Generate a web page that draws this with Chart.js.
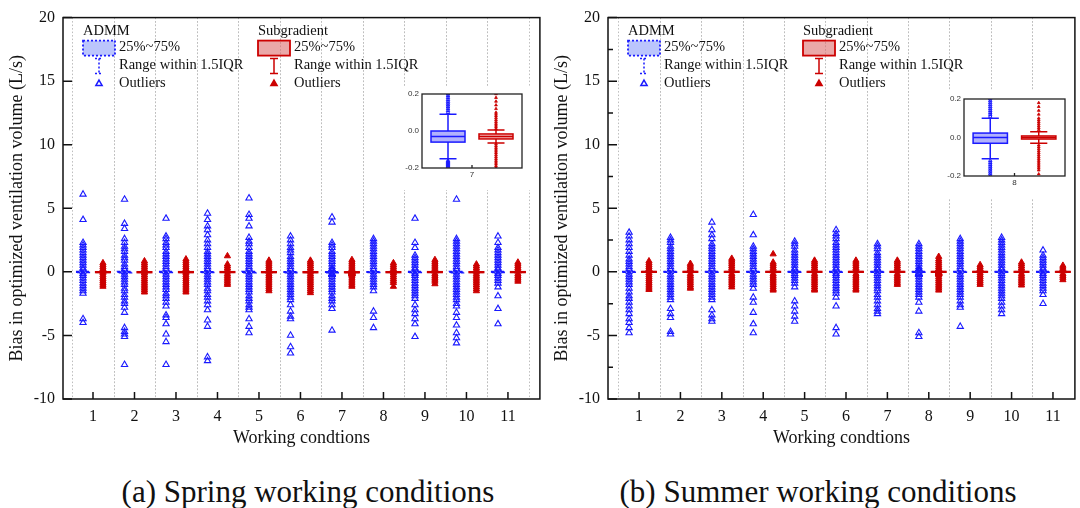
<!DOCTYPE html>
<html>
<head>
<meta charset="utf-8">
<script src="https://cdn.jsdelivr.net/npm/chart.js@4.4.0/dist/chart.umd.min.js"></script>
<style>
  body { margin: 0; background: #fff; width: 1080px; height: 508px; position: relative; overflow: hidden; }
  .pane { position: absolute; }
  .cap { position: absolute; top: 474px; height: 36px; line-height: 36px; text-align: center;
         font-family: "Liberation Serif", "Times New Roman", serif; font-size: 31px; color: #111; }
</style>
</head>
<body>
<div class="pane" style="left:0;top:0"><canvas id="springChart" width="545" height="460"></canvas></div>
<div class="pane" style="left:545px;top:0"><canvas id="summerChart" width="535" height="460"></canvas></div>
<div class="pane" style="left:395px;top:86px"><canvas id="springInset" width="135" height="104"></canvas></div>
<div class="pane" style="left:937px;top:91px"><canvas id="summerInset" width="136" height="107"></canvas></div>
<div class="cap" style="left:0;width:616px">(a) Spring working conditions</div>
<div class="cap" style="left:568px;width:500px">(b) Summer working conditions</div>

<script>
// working conditions on the x axis
const conditions = [1, 2, 3, 4, 5, 6, 7, 8, 9, 10, 11];

// outliers, one list per working condition (L/s)
const springAdmm = [
  [6.1, 4.1, 2.3, 2.1, 1.9, 1.7, 1.5, 1.3, 1.1, 0.9, 0.7, 0.5, 0.3, 0.15, -0.15, -0.3, -0.5, -0.7, -0.9, -1.1, -1.3, -1.5, -1.7, -3.7, -4.0],
  [5.7, 3.8, 3.4, 2.6, 2.3, 2.0, 1.8, 1.6, 1.3, 1.1, 0.9, 0.6, 0.4, 0.2, -0.2, -0.4, -0.6, -0.8, -1.0, -1.3, -1.5, -1.8, -2.0, -2.3, -2.5, -2.8, -3.2, -4.4, -4.7, -4.9, -5.1, -7.3],
  [4.2, 2.8, 2.6, 2.3, 2.1, 1.9, 1.6, 1.4, 1.2, 1.0, 0.8, 0.6, 0.4, 0.2, -0.2, -0.4, -0.6, -0.8, -1.0, -1.2, -1.4, -1.7, -1.9, -2.1, -2.4, -2.7, -3.4, -3.6, -4.1, -4.9, -5.5, -7.3],
  [4.6, 4.1, 3.6, 3.3, 2.9, 2.5, 2.2, 1.9, 1.6, 1.4, 1.2, 1.0, 0.8, 0.6, 0.4, 0.2, -0.2, -0.4, -0.6, -0.8, -1.0, -1.3, -1.5, -1.8, -2.0, -2.3, -2.6, -3.0, -3.8, -4.3, -6.7, -7.0],
  [5.8, 4.5, 4.2, 3.6, 2.7, 2.4, 2.2, 1.9, 1.6, 1.4, 1.2, 1.0, 0.8, 0.6, 0.4, 0.2, -0.2, -0.4, -0.6, -0.8, -1.0, -1.2, -1.4, -1.6, -1.9, -2.1, -2.3, -2.6, -2.8, -3.0, -3.7, -4.3, -4.8],
  [2.8, 2.5, 2.2, 1.9, 1.7, 1.5, 1.2, 1.0, 0.8, 0.6, 0.4, 0.2, -0.2, -0.4, -0.6, -0.8, -1.0, -1.2, -1.4, -1.6, -1.8, -2.0, -2.2, -2.6, -3.1, -3.5, -3.7, -5.0, -5.9, -6.4],
  [4.3, 3.9, 2.3, 2.1, 1.9, 1.6, 1.4, 1.2, 1.0, 0.8, 0.6, 0.4, 0.2, 0.19, 0.18, 0.17, 0.16, 0.15, 0.14, 0.13, 0.12, 0.11, 0.10,
   -0.16, -0.165, -0.17, -0.175, -0.18, -0.185, -0.19, -0.195, -0.2, -0.4, -0.6, -0.8, -1.0, -1.2, -1.4, -1.6, -1.9, -2.1, -2.3, -2.6, -2.9, -4.6],
  [2.6, 2.4, 2.2, 2.0, 1.8, 1.6, 1.4, 1.2, 1.0, 0.8, 0.6, 0.4, 0.2, -0.2, -0.4, -0.6, -0.8, -1.0, -1.2, -1.5, -3.1, -3.6, -4.4],
  [4.2, 2.3, 1.9, 1.3, 1.1, 0.9, 0.7, 0.5, 0.3, 0.15, -0.15, -0.3, -0.5, -0.7, -0.9, -1.1, -1.3, -1.5, -1.7, -1.9, -2.1, -2.6, -3.0, -3.3, -3.7, -4.1, -5.1],
  [5.7, 2.6, 2.4, 2.2, 2.0, 1.8, 1.6, 1.4, 1.2, 1.0, 0.8, 0.6, 0.4, 0.2, -0.2, -0.4, -0.6, -0.8, -1.0, -1.2, -1.4, -1.6, -1.8, -2.0, -2.2, -2.5, -2.7, -3.2, -3.6, -4.2, -4.8, -5.2, -5.6],
  [2.8, 2.3, 1.9, 1.7, 1.5, 1.3, 1.1, 0.9, 0.7, 0.5, 0.3, 0.15, -0.15, -0.3, -0.5, -0.7, -0.9, -1.2, -1.9, -2.9, -4.1]
];
const springSub = [
  [0.7, 0.55, 0.4, 0.25, 0.1, -0.1, -0.25, -0.4, -0.55, -0.7, -0.85, -1.0, -1.15],
  [0.85, 0.7, 0.55, 0.4, 0.25, 0.1, -0.1, -0.25, -0.4, -0.55, -0.7, -0.85, -1.0, -1.15, -1.3, -1.45, -1.6],
  [1.0, 0.85, 0.7, 0.55, 0.4, 0.25, 0.1, -0.1, -0.25, -0.4, -0.55, -0.7, -0.85, -1.0, -1.15, -1.3, -1.45, -1.6],
  [1.25, 0.6, 0.45, 0.3, 0.15, -0.15, -0.3, -0.45, -0.6, -0.75, -0.9, -1.0],
  [0.9, 0.75, 0.6, 0.45, 0.3, 0.15, -0.15, -0.3, -0.45, -0.6, -0.75, -0.9, -1.05, -1.2, -1.35, -1.5],
  [0.9, 0.75, 0.6, 0.45, 0.3, 0.15, -0.15, -0.3, -0.45, -0.6, -0.75, -0.9, -1.05, -1.2, -1.35, -1.5, -1.65],
  [0.95, 0.8, 0.65, 0.5, 0.35, 0.2, 0.18, 0.16, 0.14, 0.12, 0.1, 0.09, 0.08, 0.07, 0.06, 0.05, 0.04, 0.03, 0.02, 0.01,
   -0.07, -0.08, -0.09, -0.1, -0.11, -0.12, -0.13, -0.14, -0.15, -0.16, -0.17, -0.18, -0.19, -0.2, -0.3, -0.45, -0.6, -0.75, -0.9, -1.05, -1.15],
  [0.7, 0.55, 0.4, 0.25, 0.1, -0.1, -0.25, -0.4, -0.55, -0.7, -0.85, -1.15],
  [0.95, 0.8, 0.65, 0.5, 0.35, 0.2, -0.15, -0.3, -0.45, -0.6, -0.75, -0.95],
  [0.6, 0.45, 0.3, 0.15, -0.15, -0.3, -0.45, -0.6, -0.75, -0.9, -1.05, -1.2, -1.35, -1.5],
  [0.75, 0.6, 0.45, 0.3, 0.15, -0.15, -0.3, -0.45, -0.6, -0.75]
];
const summerAdmm = [
  [3.1, 2.8, 2.5, 2.2, 1.9, 1.6, 1.3, 1.0, 0.8, 0.6, 0.4, 0.2, -0.2, -0.4, -0.6, -0.8, -1.0, -1.3, -1.6, -1.9, -2.1, -2.4, -2.7, -3.0, -3.3, -3.7, -4.0, -4.4, -4.8],
  [2.7, 2.5, 2.3, 2.0, 1.8, 1.6, 1.4, 1.2, 1.0, 0.8, 0.6, 0.4, 0.2, -0.2, -0.4, -0.6, -0.8, -1.0, -1.2, -1.4, -1.6, -1.8, -2.0, -2.2, -2.9, -3.3, -3.6, -4.7, -4.9],
  [3.9, 3.3, 2.9, 2.6, 2.2, 2.0, 1.8, 1.6, 1.4, 1.2, 1.0, 0.8, 0.6, 0.4, 0.2, -0.2, -0.4, -0.6, -0.8, -1.0, -1.2, -1.4, -1.6, -1.8, -2.0, -2.2, -3.0, -3.4, -3.7, -3.9],
  [4.5, 2.9, 2.0, 1.8, 1.6, 1.4, 1.2, 1.0, 0.8, 0.6, 0.4, 0.2, -0.2, -0.4, -0.6, -0.8, -1.0, -1.3, -2.0, -2.4, -3.2, -4.1, -4.8],
  [2.4, 2.2, 2.0, 1.7, 1.5, 1.3, 1.1, 0.9, 0.7, 0.5, 0.3, 0.15, -0.15, -0.3, -0.5, -0.7, -0.9, -1.2, -2.3, -2.7, -3.1, -3.5, -3.9],
  [3.3, 3.0, 2.8, 2.6, 2.3, 2.1, 1.9, 1.7, 1.5, 1.3, 1.1, 0.9, 0.7, 0.5, 0.3, 0.15, -0.15, -0.3, -0.5, -0.7, -0.9, -1.1, -1.3, -1.5, -1.7, -2.0, -2.7, -4.4, -4.9],
  [2.2, 2.0, 1.8, 1.5, 1.3, 1.1, 0.9, 0.7, 0.5, 0.3, 0.15, -0.15, -0.3, -0.5, -0.7, -0.9, -1.1, -1.3, -1.5, -1.8, -2.0, -2.3, -2.6, -2.9, -3.1, -3.3],
  [2.2, 2.0, 1.8, 1.6, 1.4, 1.2, 1.0, 0.8, 0.6, 0.4, 0.2, 0.19, 0.18, 0.17, 0.16, 0.15, 0.14, 0.13, 0.12, 0.11,
   -0.12, -0.13, -0.14, -0.15, -0.16, -0.17, -0.18, -0.19, -0.2, -0.4, -0.6, -0.8, -1.0, -1.2, -1.4, -1.6, -1.8, -2.0, -2.4, -3.1, -4.8, -5.1],
  [2.6, 2.4, 2.2, 2.0, 1.8, 1.6, 1.4, 1.2, 1.0, 0.8, 0.6, 0.4, 0.2, -0.2, -0.4, -0.6, -0.8, -1.0, -1.2, -1.4, -1.6, -1.8, -2.0, -2.3, -2.6, -2.8, -4.3],
  [2.7, 2.5, 2.3, 2.1, 1.9, 1.7, 1.5, 1.3, 1.1, 0.9, 0.7, 0.5, 0.3, 0.15, -0.15, -0.3, -0.5, -0.7, -0.9, -1.1, -1.3, -1.5, -1.7, -1.9, -2.1, -2.4, -2.7, -3.0, -3.3],
  [1.7, 1.3, 1.1, 0.9, 0.7, 0.5, 0.3, 0.15, -0.15, -0.3, -0.5, -0.7, -0.9, -1.1, -1.3, -1.5, -1.8, -2.5]
];
const summerSub = [
  [0.85, 0.7, 0.55, 0.4, 0.25, 0.1, -0.1, -0.25, -0.4, -0.55, -0.7, -0.85, -1.0, -1.15, -1.3, -1.4],
  [0.65, 0.5, 0.35, 0.2, -0.15, -0.3, -0.45, -0.6, -0.75, -0.9, -1.05, -1.2, -1.3],
  [1.05, 0.9, 0.75, 0.6, 0.45, 0.3, 0.15, -0.15, -0.3, -0.45, -0.6, -0.75, -0.9, -1.05, -1.2],
  [1.4, 0.75, 0.6, 0.45, 0.3, 0.15, -0.15, -0.3, -0.45, -0.6, -0.75, -0.9, -1.05, -1.2, -1.35, -1.45],
  [0.9, 0.75, 0.6, 0.45, 0.3, 0.15, -0.15, -0.3, -0.45, -0.6, -0.75, -0.9, -1.05, -1.2, -1.35, -1.45],
  [0.9, 0.75, 0.6, 0.45, 0.3, 0.15, -0.15, -0.3, -0.45, -0.6, -0.75, -0.9, -1.05, -1.2, -1.35, -1.45],
  [0.9, 0.75, 0.6, 0.45, 0.3, 0.15, -0.15, -0.3, -0.45, -0.6, -0.75, -0.9, -1.0],
  [1.2, 1.0, 0.85, 0.7, 0.55, 0.4, 0.25, 0.18, 0.16, 0.14, 0.12, 0.1, 0.09, 0.08, 0.07, 0.06, 0.05, 0.04,
   -0.04, -0.05, -0.06, -0.07, -0.08, -0.09, -0.1, -0.11, -0.12, -0.13, -0.14, -0.15, -0.16, -0.17, -0.19,
   -0.25, -0.4, -0.55, -0.7, -0.85, -1.0, -1.15, -1.3, -1.45],
  [0.55, 0.4, 0.25, 0.1, -0.1, -0.25, -0.4, -0.55, -0.7, -0.85, -1.0],
  [0.75, 0.6, 0.45, 0.3, 0.15, -0.15, -0.3, -0.45, -0.6, -0.75, -0.9, -1.05],
  [0.5, 0.35, 0.2, -0.15, -0.3, -0.45, -0.63]
];

// box statistics per condition: [lower whisker, Q1, median, Q3, upper whisker]
const springAdmmBox = [
  [-0.13, -0.05, -0.02, 0.02, 0.11], [-0.15, -0.06, -0.02, 0.02, 0.12], [-0.14, -0.05, -0.01, 0.02, 0.11],
  [-0.13, -0.05, -0.02, 0.01, 0.10], [-0.15, -0.06, -0.02, 0.02, 0.12], [-0.14, -0.06, -0.03, 0.01, 0.10],
  [-0.15, -0.06, -0.03, 0.00, 0.09], [-0.12, -0.05, -0.02, 0.01, 0.10], [-0.14, -0.05, -0.02, 0.02, 0.11],
  [-0.15, -0.06, -0.02, 0.02, 0.12], [-0.12, -0.04, -0.01, 0.02, 0.10]
];
const springSubBox = [
  [-0.06, -0.035, -0.02, -0.01, 0.01], [-0.07, -0.04, -0.02, -0.01, 0.01], [-0.06, -0.035, -0.02, -0.005, 0.015],
  [-0.05, -0.03, -0.015, -0.005, 0.01], [-0.06, -0.035, -0.02, -0.01, 0.01], [-0.07, -0.04, -0.025, -0.01, 0.01],
  [-0.065, -0.043, -0.03, -0.016, 0.005], [-0.06, -0.035, -0.02, -0.01, 0.01], [-0.05, -0.03, -0.015, -0.005, 0.01],
  [-0.06, -0.035, -0.02, -0.01, 0.01], [-0.05, -0.03, -0.015, -0.005, 0.01]
];
const summerAdmmBox = [
  [-0.12, -0.035, 0.0, 0.025, 0.11], [-0.11, -0.03, 0.0, 0.02, 0.10], [-0.12, -0.035, 0.0, 0.025, 0.11],
  [-0.11, -0.03, 0.0, 0.02, 0.10], [-0.10, -0.03, 0.0, 0.02, 0.09], [-0.12, -0.035, 0.0, 0.025, 0.11],
  [-0.11, -0.03, 0.0, 0.02, 0.10], [-0.11, -0.03, 0.0, 0.023, 0.10], [-0.12, -0.035, 0.0, 0.025, 0.11],
  [-0.11, -0.03, 0.0, 0.02, 0.10], [-0.10, -0.03, 0.0, 0.02, 0.09]
];
const summerSubBox = [
  [-0.03, -0.008, 0.0, 0.008, 0.03], [-0.03, -0.008, 0.0, 0.008, 0.03], [-0.035, -0.01, 0.0, 0.01, 0.035],
  [-0.03, -0.008, 0.0, 0.008, 0.03], [-0.03, -0.008, 0.0, 0.008, 0.03], [-0.035, -0.01, 0.0, 0.01, 0.035],
  [-0.03, -0.008, 0.0, 0.008, 0.03], [-0.03, -0.008, 0.0, 0.008, 0.03], [-0.03, -0.008, 0.0, 0.008, 0.03],
  [-0.03, -0.008, 0.0, 0.008, 0.03], [-0.025, -0.006, 0.0, 0.006, 0.025]
];

const SERIF = '"Liberation Serif", "Times New Roman", serif';
const SANS = '"Liberation Sans", Arial, sans-serif';
const BLUE = '#1a1aff';
const RED = '#cc0000';
const SHIFT = 0.24;   // ADMM left of the tick, Subgradient right of it
const BOX_W = 0.34;

function toPoints(groups, dx) {
  const out = [];
  groups.forEach((vals, i) => vals.forEach(v => out.push({ x: conditions[i] + dx, y: v })));
  return out;
}

function drawBox(ctx, xs, ys, xc, s, st) {
  const x0 = xs.getPixelForValue(xc - BOX_W / 2);
  const x1 = xs.getPixelForValue(xc + BOX_W / 2);
  const cx = xs.getPixelForValue(xc);
  const cw = (x1 - x0) / 4;
  const [lo, q1, md, q3, hi] = s.map(v => ys.getPixelForValue(v));
  ctx.save();
  ctx.strokeStyle = st.color;
  ctx.lineWidth = st.lw;
  ctx.setLineDash(st.dash);
  ctx.beginPath();
  ctx.moveTo(cx, q3); ctx.lineTo(cx, hi);
  ctx.moveTo(cx, q1); ctx.lineTo(cx, lo);
  ctx.moveTo(cx - cw, hi); ctx.lineTo(cx + cw, hi);
  ctx.moveTo(cx - cw, lo); ctx.lineTo(cx + cw, lo);
  ctx.stroke();
  ctx.fillStyle = st.fill;
  ctx.fillRect(x0, q3, x1 - x0, q1 - q3);
  ctx.strokeRect(x0, q3, x1 - x0, q1 - q3);
  ctx.beginPath();
  ctx.moveTo(x0, md); ctx.lineTo(x1, md);
  ctx.stroke();
  ctx.restore();
}

function marker(ctx, x, y, filled, color, r) {
  ctx.save();
  ctx.setLineDash([]);
  ctx.strokeStyle = color;
  ctx.fillStyle = filled ? color : 'rgba(0,0,0,0)';
  Chart.helpers.drawPoint(ctx, { pointStyle: 'triangle', radius: r, rotation: 0, borderWidth: 1.1 }, x, y);
  ctx.restore();
}

function drawLegend(ctx, a) {
  const L = a.left, T = a.top;
  ctx.save();
  ctx.font = '14.5px ' + SERIF;
  ctx.fillStyle = '#111';
  ctx.textBaseline = 'middle';
  const groups = [
    { dx: 20, name: 'ADMM', fill: 'rgba(120,140,250,0.5)', color: BLUE, dash: [2, 2], filled: false },
    { dx: 195, name: 'Subgradient', fill: 'rgba(220,110,110,0.6)', color: RED, dash: [], filled: true }
  ];
  groups.forEach(g => {
    const x = L + g.dx, cx = x + 16;
    ctx.fillStyle = '#111';
    ctx.fillText(g.name, x, T + 14);
    ctx.fillText('25%~75%', x + 36, T + 30);
    ctx.fillText('Range within 1.5IQR', x + 36, T + 48);
    ctx.fillText('Outliers', x + 36, T + 66);
    ctx.fillStyle = g.fill;
    ctx.fillRect(x, T + 23, 32, 15);
    ctx.strokeStyle = g.color;
    ctx.lineWidth = 1.8;
    ctx.setLineDash(g.dash);
    ctx.strokeRect(x, T + 23, 32, 15);
    ctx.lineWidth = 1.5;
    ctx.beginPath();
    ctx.moveTo(cx - 4, T + 41); ctx.lineTo(cx + 4, T + 41);
    ctx.moveTo(cx, T + 41); ctx.lineTo(cx, T + 56);
    ctx.moveTo(cx - 4, T + 56); ctx.lineTo(cx + 4, T + 56);
    ctx.stroke();
    marker(ctx, cx, T + 66, g.filled, g.color, 3.6);
  });
  ctx.restore();
}

function decorPlugin(admmBox, subBox, minor) {
  return {
    id: 'decor',
    beforeDatasetsDraw(chart) {
      const { ctx, chartArea: a, scales: { x } } = chart;
      ctx.save();
      ctx.strokeStyle = '#bdbdbd';
      ctx.lineWidth = 1;
      ctx.setLineDash([1.5, 2]);
      conditions.forEach(c => [c - 0.5, c + 0.5].forEach(v => {
        const px = Math.round(x.getPixelForValue(v)) + 0.5;
        if (px < a.left + 2 || px > a.right - 2) return;
        ctx.beginPath(); ctx.moveTo(px, a.top); ctx.lineTo(px, a.bottom); ctx.stroke();
      }));
      ctx.restore();
    },
    afterDatasetsDraw(chart) {
      const { ctx, chartArea: a, scales: { x, y } } = chart;
      conditions.forEach((c, i) => {
        drawBox(ctx, x, y, c - SHIFT, admmBox[i], { color: BLUE, fill: 'rgba(120,140,250,0.5)', lw: 1.6, dash: [3, 2] });
        drawBox(ctx, x, y, c + SHIFT, subBox[i], { color: RED, fill: 'rgba(220,110,110,0.6)', lw: 2, dash: [] });
      });
      ctx.save();
      ctx.strokeStyle = '#111';
      ctx.lineWidth = 1.5;
      ctx.strokeRect(a.left, a.top, a.right - a.left, a.bottom - a.top);
      ctx.beginPath();
      y.ticks.forEach(t => {
        const py = y.getPixelForValue(t.value);
        ctx.moveTo(a.left, py); ctx.lineTo(a.left + 9, py);
        if (minor && t.value < 20) {
          const pm = y.getPixelForValue(t.value + 2.5);
          ctx.moveTo(a.left, pm); ctx.lineTo(a.left + 5, pm);
        }
      });
      conditions.forEach(c => {
        const px = x.getPixelForValue(c);
        ctx.moveTo(px, a.bottom); ctx.lineTo(px, a.bottom - 7);
      });
      ctx.stroke();
      ctx.restore();
      drawLegend(ctx, a);
    }
  };
}

function mainChart(id, admm, sub, admmBox, subBox, xMin, xMax, padRight, minor) {
  return new Chart(document.getElementById(id), {
    type: 'scatter',
    data: {
      datasets: [
        { label: 'ADMM', data: toPoints(admm, -SHIFT), pointStyle: 'triangle', pointRadius: 3.6,
          pointBorderWidth: 1.1, pointBorderColor: BLUE, pointBackgroundColor: 'rgba(0,0,0,0)' },
        { label: 'Subgradient', data: toPoints(sub, SHIFT), pointStyle: 'triangle', pointRadius: 3.6,
          pointBorderWidth: 1, pointBorderColor: RED, pointBackgroundColor: RED }
      ]
    },
    options: {
      responsive: false,
      animation: false,
      events: [],
      layout: { padding: { left: 0, top: 16, right: padRight, bottom: 9 } },
      plugins: { legend: { display: false }, tooltip: { enabled: false } },
      scales: {
        x: {
          type: 'linear', min: xMin, max: xMax,
          afterBuildTicks(s) { s.ticks = conditions.map(v => ({ value: v })); },
          afterFit(s) { s.height = 52; },
          ticks: { autoSkip: false, maxRotation: 0, padding: 8, color: '#111', font: { family: SERIF, size: 16 } },
          grid: { display: false, drawTicks: false },
          border: { display: false },
          title: { display: true, text: 'Working condtions', color: '#111', font: { family: SERIF, size: 18 }, padding: { top: 0, bottom: 2 } }
        },
        y: {
          min: -10, max: 20,
          afterFit(s) { s.width = 63; },
          ticks: { stepSize: 5, padding: 8, color: '#111', font: { family: SERIF, size: 16 } },
          grid: { display: false, drawTicks: false },
          border: { display: false },
          title: { display: true, text: 'Bias in optimized ventilation volume (L/s)', color: '#111', font: { family: SERIF, size: 18 }, padding: { top: 6, bottom: 0 } }
        }
      }
    },
    plugins: [decorPlugin(admmBox, subBox, minor)]
  });
}

function insetChart(id, idx, admm, sub, admmBox, subBox, padRight) {
  const c = conditions[idx];
  return new Chart(document.getElementById(id), {
    type: 'scatter',
    data: {
      datasets: [
        { data: admm[idx].map(v => ({ x: c - SHIFT, y: v })), clip: 0, pointStyle: 'triangle', pointRadius: 2,
          pointBorderWidth: 1, pointBorderColor: BLUE, pointBackgroundColor: 'rgba(0,0,0,0)' },
        { data: sub[idx].map(v => ({ x: c + SHIFT, y: v })), clip: 0, pointStyle: 'triangle', pointRadius: 1.6,
          pointBorderWidth: 0.8, pointBorderColor: RED, pointBackgroundColor: RED }
      ]
    },
    options: {
      responsive: false,
      animation: false,
      events: [],
      layout: { padding: { left: 0, top: 8, right: padRight, bottom: 0 } },
      plugins: { legend: { display: false }, tooltip: { enabled: false } },
      scales: {
        x: {
          type: 'linear', min: c - 0.5, max: c + 0.5,
          afterBuildTicks(s) { s.ticks = [{ value: c }]; },
          afterFit(s) { s.height = 22; },
          ticks: { padding: 2, color: '#333', font: { family: SANS, size: 8 } },
          grid: { display: false, drawTicks: false },
          border: { display: false }
        },
        y: {
          min: -0.2, max: 0.2,
          afterBuildTicks(s) { s.ticks = [-0.2, 0, 0.2].map(v => ({ value: v })); },
          afterFit(s) { s.width = 27; },
          ticks: { padding: 3, color: '#333', font: { family: SANS, size: 8 }, callback: v => v.toFixed(1) },
          grid: { display: false, drawTicks: false },
          border: { display: false }
        }
      }
    },
    plugins: [{
      id: 'insetDecor',
      beforeDraw(chart) {
        const ctx = chart.ctx;
        ctx.save();
        ctx.fillStyle = '#fff';
        ctx.fillRect(0, 0, chart.width, chart.height);
        ctx.restore();
      },
      afterDatasetsDraw(chart) {
        const { ctx, chartArea: a, scales: { x, y } } = chart;
        drawBox(ctx, x, y, c - SHIFT, admmBox[idx], { color: BLUE, fill: 'rgba(100,100,250,0.5)', lw: 1.5, dash: [] });
        drawBox(ctx, x, y, c + SHIFT, subBox[idx], { color: RED, fill: 'rgba(230,120,120,0.55)', lw: 1.5, dash: [] });
        ctx.save();
        ctx.strokeStyle = '#222';
        ctx.lineWidth = 1.3;
        ctx.strokeRect(a.left, a.top, a.right - a.left, a.bottom - a.top);
        const px = x.getPixelForValue(c);
        ctx.beginPath(); ctx.moveTo(px, a.bottom); ctx.lineTo(px, a.bottom - 3); ctx.stroke();
        ctx.restore();
      }
    }]
  });
}

mainChart('springChart', springAdmm, springSub, springAdmmBox, springSubBox, 0.277, 11.77, 5, false);
mainChart('summerChart', summerAdmm, summerSub, summerAdmmBox, summerSubBox, 0.25, 11.53, 4, true);
insetChart('springInset', 6, springAdmm, springSub, springAdmmBox, springSubBox, 8);
insetChart('summerInset', 7, summerAdmm, summerSub, summerAdmmBox, summerSubBox, 8);
</script>
</body>
</html>
